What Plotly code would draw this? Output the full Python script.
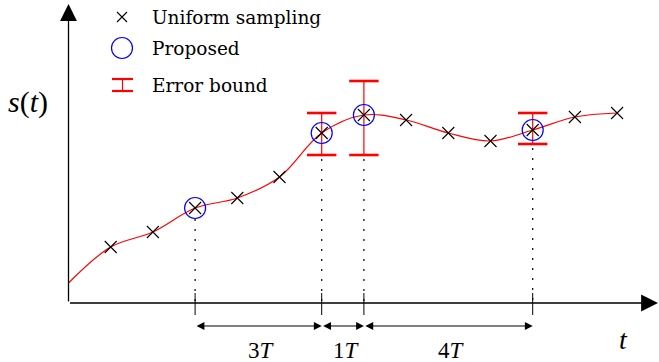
import plotly.graph_objects as go

# ---------------- data ----------------
T_GRID = list(range(14))                      # time in units of T (t = 0 .. 13T)
SIGNAL = [0.20, 0.56, 0.71, 0.95, 1.05, 1.26, 1.70,
          1.88, 1.83, 1.70, 1.62, 1.73, 1.86, 1.90]   # s(t) at t = kT
SAMPLE_IDX = list(range(1, 14))               # uniform samples (crosses)
PROPOSED_IDX = [3, 6, 7, 11]                  # proposed sampling instants
ERR_IDX = [6, 7, 11]                          # samples with an error bound
ERR_UP = [0.20, 0.34, 0.17]
ERR_DOWN = [0.22, 0.40, 0.14]
LEGEND_LABELS = ["Uniform sampling", "Proposed", "Error bound"]

# ---------------- geometry ----------------
W, H = 659, 362
X0, SX = 68.5, 42.2      # pixel of t=0, pixels per T
Y0, SY = 303.0, 100.0    # pixel of s=0, pixels per unit

def tx(px):
    return (px - X0) / SX

def sy(py):
    return (Y0 - py) / SY

FONT = "DejaVu Serif"
MATHFONT = "Liberation Serif"
RED = "#ff0000"
BLUE = "#0000ff"

fig = go.Figure()

# dotted guide lines and ticks under proposed samples
circ_r = 11 / SY
for k in PROPOSED_IDX:
    s = SIGNAL[k]
    low = s - circ_r
    if k in ERR_IDX:
        low = min(low, s - ERR_DOWN[ERR_IDX.index(k)] - 0.04)
    fig.add_shape(type="line", x0=T_GRID[k], x1=T_GRID[k], y0=low, y1=0,
                  line=dict(color="black", width=1.2, dash="2px,8px"), layer="below")
    fig.add_shape(type="line", x0=T_GRID[k], x1=T_GRID[k], y0=sy(293), y1=sy(315),
                  line=dict(color="black", width=1), layer="below")

# signal curve
fig.add_trace(go.Scatter(x=T_GRID, y=SIGNAL, mode="lines", line_shape="spline",
                         line=dict(color=RED, width=1.2), hoverinfo="skip"))

# error bars (stems) and caps
ex = [T_GRID[k] for k in ERR_IDX]
ey = [SIGNAL[k] for k in ERR_IDX]
fig.add_trace(go.Scatter(x=ex, y=ey, mode="markers", marker=dict(size=1, color="rgba(0,0,0,0)"),
                         error_y=dict(type="data", symmetric=False, array=ERR_UP,
                                      arrayminus=ERR_DOWN, color=RED, thickness=1.2, width=0)))
caps_x = ex + ex
caps_y = [y + u for y, u in zip(ey, ERR_UP)] + [y - d for y, d in zip(ey, ERR_DOWN)]
fig.add_trace(go.Scatter(x=caps_x, y=caps_y, mode="markers",
                         marker=dict(symbol="line-ew-open", size=21, color=RED,
                                     line=dict(color=RED, width=2.6))))

# uniform samples
fig.add_trace(go.Scatter(x=[T_GRID[k] for k in SAMPLE_IDX], y=[SIGNAL[k] for k in SAMPLE_IDX],
                         mode="markers",
                         marker=dict(symbol="x-thin-open", size=12, color="black",
                                     line=dict(color="black", width=1.1))))
# proposed samples
fig.add_trace(go.Scatter(x=[T_GRID[k] for k in PROPOSED_IDX], y=[SIGNAL[k] for k in PROPOSED_IDX],
                         mode="markers",
                         marker=dict(symbol="circle-open", size=21, color=BLUE,
                                     line=dict(color=BLUE, width=1.2))))

# axes with arrowheads
ann = []
ann.append(dict(x=0, y=sy(4), ax=0, ay=0, xref="x", yref="y", axref="x", ayref="y",
                text="", showarrow=True, arrowhead=2, arrowsize=2.6, arrowwidth=1.3,
                arrowcolor="black"))
ann.append(dict(x=tx(658), y=0, ax=0, ay=0, xref="x", yref="y", axref="x", ayref="y",
                text="", showarrow=True, arrowhead=2, arrowsize=2.6, arrowwidth=1.3,
                arrowcolor="black"))

# interval arrows and labels
ya = sy(326)
for a, b in zip(PROPOSED_IDX[:-1], PROPOSED_IDX[1:]):
    ann.append(dict(x=T_GRID[b], y=ya, ax=T_GRID[a], ay=ya, xref="x", yref="y",
                    axref="x", ayref="y", text="", showarrow=True,
                    arrowside="end+start", arrowhead=2, startarrowhead=2,
                    arrowsize=1.3, startarrowsize=1.3, arrowwidth=1.2, arrowcolor="black"))
    ann.append(dict(x=(T_GRID[a] + T_GRID[b]) / 2 + 0.08, y=sy(350), xref="x", yref="y",
                    text=f"{b - a}<i>T</i>", showarrow=False,
                    font=dict(family=MATHFONT, size=23, color="black"),
                    xanchor="center", yanchor="middle"))

# axis labels
ann.append(dict(x=28 / W, y=1 - 102 / H, xref="paper", yref="paper",
                text="<i>s</i>(<i>t</i>)", showarrow=False,
                font=dict(family=MATHFONT, size=30, color="black"),
                xanchor="center", yanchor="middle"))
ann.append(dict(x=623 / W, y=1 - 339 / H, xref="paper", yref="paper",
                text="<i>t</i>", showarrow=False,
                font=dict(family=MATHFONT, size=28, color="black"),
                xanchor="center", yanchor="middle"))

# legend (manual)
leg_y = [17, 48, 85]
for lab, py in zip(LEGEND_LABELS, leg_y):
    ann.append(dict(x=150 / W, y=1 - py / H, xref="paper", yref="paper",
                    text=lab, showarrow=False,
                    font=dict(family=FONT, size=18.5, color="black"),
                    xanchor="left", yanchor="middle"))
fig.add_trace(go.Scatter(x=[tx(122)], y=[sy(17)], mode="markers",
                         marker=dict(symbol="x-thin-open", size=10, color="black",
                                     line=dict(color="black", width=1.1))))
fig.add_trace(go.Scatter(x=[tx(122)], y=[sy(48)], mode="markers",
                         marker=dict(symbol="circle-open", size=21, color=BLUE,
                                     line=dict(color=BLUE, width=1.2))))
for py in (79, 91):
    fig.add_shape(type="line", xref="paper", yref="paper", x0=112 / W, x1=133 / W,
                  y0=1 - py / H, y1=1 - py / H, line=dict(color=RED, width=2.2))
fig.add_shape(type="line", xref="paper", yref="paper", x0=122.5 / W, x1=122.5 / W,
              y0=1 - 79 / H, y1=1 - 91 / H, line=dict(color=RED, width=1.2))

fig.update_layout(
    width=W, height=H, margin=dict(l=0, r=0, t=0, b=0),
    paper_bgcolor="white", plot_bgcolor="white", showlegend=False,
    xaxis=dict(range=[tx(0), tx(W)], visible=False, fixedrange=True),
    yaxis=dict(range=[sy(H), sy(0)], visible=False, fixedrange=True),
    annotations=ann,
)

fig.write_html("out.html", config={"displayModeBar": False},
               post_script="document.body.style.margin='0';document.body.style.overflow='hidden';")
